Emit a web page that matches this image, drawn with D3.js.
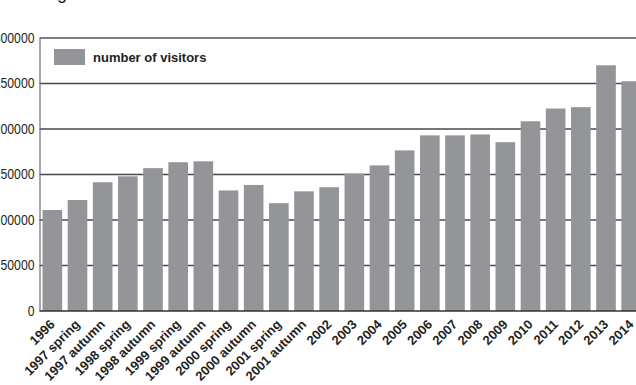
<!DOCTYPE html>
<html>
<head>
<meta charset="utf-8">
<script src="https://cdn.jsdelivr.net/npm/d3@7"></script>
<style>
  body { margin: 0; background: #fff; }
  svg { display: block; font-family: "Liberation Sans", Arial, Helvetica, sans-serif; }
</style>
</head>
<body>
<svg id="chart" width="636" height="385"></svg>
<script>
// categories and values
var categories = ["1996", "1997 spring", "1997 autumn", "1998 spring", "1998 autumn",
  "1999 spring", "1999 autumn", "2000 spring", "2000 autumn", "2001 spring", "2001 autumn",
  "2002", "2003", "2004", "2005", "2006", "2007", "2008", "2009", "2010", "2011", "2012",
  "2013", "2014"];
var visitors = [111000, 122000, 141500, 148000, 157000, 163500, 164500, 132500, 138500,
  118500, 131500, 136000, 151000, 160000, 176500, 193000, 193000, 194000, 185500, 208500,
  222500, 224000, 270000, 252500];
var yTicks = [0, 50000, 100000, 150000, 200000, 250000, 300000];
var seriesName = "number of visitors";

var svg = d3.select("#chart");
var plotLeft = 39.5, plotRight = 644, plotTop = 38, plotBottom = 311;

var x = d3.scaleBand().domain(categories).range([plotLeft, plotRight])
  .paddingInner(0.22).paddingOuter(0.12);
var y = d3.scaleLinear().domain([0, 300000]).range([plotBottom, plotTop]);

// title, mostly cut off at the top edge
svg.append("text")
  .attr("x", 57).attr("y", -1)
  .style("font-size", "18px")
  .attr("fill", "#231f20")
  .text("g");

// gridlines behind the bars
svg.append("g").selectAll("line")
  .data(yTicks.filter(function(d) { return d > 0; }))
  .enter().append("line")
  .attr("x1", plotLeft).attr("x2", 636)
  .attr("y1", function(d) { return y(d); })
  .attr("y2", function(d) { return y(d); })
  .attr("stroke", function(d) { return d === 300000 ? "#7d7e80" : "#48494b"; })
  .attr("stroke-width", function(d) { return d === 300000 ? 2 : 1.3; });

// bars
svg.append("g").selectAll("rect")
  .data(visitors)
  .enter().append("rect")
  .attr("x", function(d, i) { return x(categories[i]); })
  .attr("width", x.bandwidth())
  .attr("y", function(d) { return y(d); })
  .attr("height", function(d) { return plotBottom - y(d); })
  .attr("fill", "#939598");

// y axis (narrow looking digits)
var yAxis = svg.append("g")
  .attr("transform", "translate(" + plotLeft + ",0)")
  .call(d3.axisLeft(y).tickValues(yTicks).tickSize(0).tickPadding(5).tickFormat(d3.format("d")));
yAxis.select(".domain").attr("stroke", "#6d6e70").attr("stroke-width", 1.2);
yAxis.selectAll("text")
  .style("font-size", "14px")
  .attr("fill", "#231f20")
  .attr("textLength", function(d) { return String(d).length * 6.8; })
  .attr("lengthAdjust", "spacingAndGlyphs");

// x axis
var xAxis = svg.append("g")
  .attr("transform", "translate(0," + plotBottom + ")")
  .call(d3.axisBottom(x).tickSize(0).tickSizeOuter(0));
xAxis.select(".domain").attr("d", "M" + plotLeft + ",0H636").attr("stroke", "#333").attr("stroke-width", 1.5);
xAxis.selectAll("text")
  .style("font-size", "13px")
  .style("font-weight", "bold")
  .attr("fill", "#231f20")
  .attr("text-anchor", "end")
  .attr("y", 0)
  .attr("dy", "0.35em")
  .attr("transform", "translate(0,11) rotate(-45)");

// legend
svg.append("rect")
  .attr("x", 54).attr("y", 49)
  .attr("width", 31).attr("height", 16)
  .attr("fill", "#939598");
svg.append("text")
  .attr("x", 93).attr("y", 61.5)
  .style("font-size", "13px")
  .style("font-weight", "bold")
  .attr("fill", "#231f20")
  .text(seriesName);
</script>
</body>
</html>
